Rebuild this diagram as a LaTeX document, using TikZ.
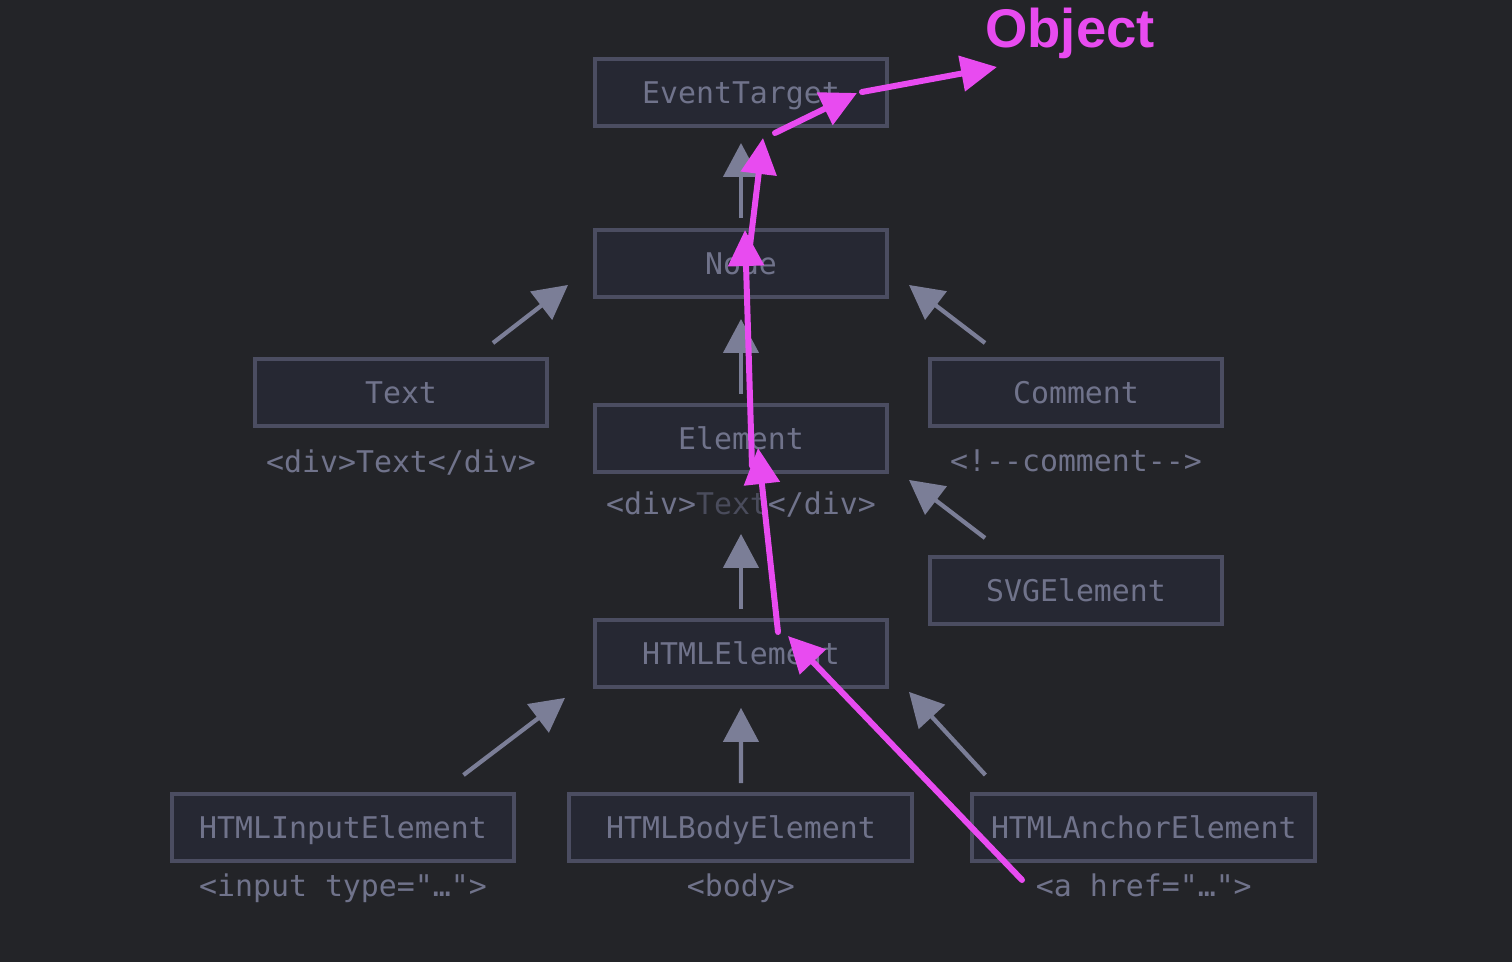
\documentclass[tikz,border=0pt]{standalone}
\usepackage{fontspec}
\setmonofont{DejaVu Sans Mono}
\newfontfamily\objfont{Liberation Sans}
\usetikzlibrary{arrows.meta, positioning}
\definecolor{ProtoBg}{HTML}{232428}
\definecolor{ProtoBox}{HTML}{262833}
\definecolor{ProtoEdge}{HTML}{4B4D61}
\definecolor{ProtoText}{HTML}{70738B}
\definecolor{ProtoDim}{HTML}{4A4C5C}
\definecolor{ProtoArrow}{HTML}{7B7E97}
\definecolor{ProtoPen}{HTML}{E84BF0}

\begin{document}
\begin{tikzpicture}[x=0.02cm, y=-0.02cm,
    box/.style={
      rectangle, draw=ProtoEdge, fill=ProtoBox, line width=0.08cm,
      minimum width=5.84cm, minimum height=1.34cm, inner sep=0pt,
      text height=13.5pt, text depth=0.5pt,
      text=ProtoText, font=\ttfamily\fontsize{17}{20}\selectfont
    },
    wbox/.style={box, minimum width=6.86cm},
    tag/.style={inner sep=0pt, text=ProtoText, font=\ttfamily\fontsize{17}{20}\selectfont},
    arr/.style={-{Triangle[length=0.68cm, width=0.7cm]}, draw=ProtoArrow, fill=ProtoArrow, line width=0.085cm},
    pen/.style={-{Triangle[length=0.72cm, width=0.7cm]}, draw=ProtoPen, fill=ProtoPen, line width=0.12cm, line cap=round}
  ]
    \fill[ProtoBg] (0,0) rectangle (1512,962);

    \node[box] (et) at (741,92.5) {EventTarget};
    \node[box, below=2cm of et] (nd) {Node};
    \node[box, below=2.08cm of nd] (el) {Element};
    \node[box, below=2.88cm of el] (htmlel) {HTMLElement};
    \node[box] (txt) at (401,392.5) {Text};
    \node[box] (cmt) at (1076,392.5) {Comment};
    \node[box] (svg) at (1076,590.5) {SVGElement};
    \node[wbox] (inp) at (343,827.5) {HTMLInputElement};
    \node[wbox, right=1.02cm of inp] (body) {HTMLBodyElement};
    \node[wbox, right=1.12cm of body] (anc) {HTMLAnchorElement};

    \node[tag, below=0.42cm of txt] (txttag) {<div>Text</div>};
    \node[tag, below=0.42cm of cmt] (cmttag) {<!-{}-comment-{}->};
    \node[tag, below=0.36cm of el] (eltag) {<div>\textcolor{ProtoDim}{Text}</div>};
    \node[tag, below=0.2cm of inp] (inptag) {<input type="…">};
    \node[tag, below=0.2cm of body] (bodytag) {<body>};
    \node[tag, below=0.2cm of anc] (anctag) {<a href="…">};

    \draw[arr] ([shift={(0,-10)}]nd.north) -- ([shift={(0,15)}]et.south);
    \draw[arr] ([shift={(-56,-14)}]txt.north east) -- ([shift={(-25,-14)}]nd.south west);
    \draw[arr] ([shift={(57,-14)}]cmt.north west) -- ([shift={(20,-14)}]nd.south east);
    \draw[arr] ([shift={(0,-9)}]el.north) -- ([shift={(0,20)}]nd.south);
    \draw[arr] ([shift={(57,-17)}]svg.north west) -- ([shift={(20,6)}]el.south east);
    \draw[arr] ([shift={(0,-9)}]htmlel.north) -- ([shift={(0,60)}]el.south);
    \draw[arr] ([shift={(-53,-17)}]inp.north east) -- ([shift={(-28,9)}]htmlel.south west);
    \draw[arr] ([shift={(0,-9)}]body.north) -- ([shift={(0,19)}]htmlel.south);
    \draw[arr] ([shift={(15,-17)}]anc.north west) -- ([shift={(20,3)}]htmlel.south east);

    \node[font=\objfont\bfseries\fontsize{31}{36}\selectfont, text=ProtoPen, anchor=base] (obj) at (1070,48) {Object};

    \coordinate (p0) at (1022,880);
    \coordinate (p1) at (788,636);
    \coordinate (p2) at (778,632);
    \coordinate (p3) at (758,448);
    \coordinate (p4) at (752,466);
    \coordinate (p5) at (745,230);
    \coordinate (p6) at (748,262);
    \coordinate (p7) at (763,138);
    \coordinate (p8) at (775,133);
    \coordinate (p9) at (857,93);
    \coordinate (p10) at (862,92);
    \coordinate (p11) at (997,67);

    \draw[pen] (p0) -- (p1);
    \draw[pen] (p2) -- (p3);
    \draw[pen] (p4) -- (p5);
    \draw[pen] (p6) -- (p7);
    \draw[pen] (p8) -- (p9);
    \draw[pen] (p10) -- (p11);
  \end{tikzpicture}
\end{document}
